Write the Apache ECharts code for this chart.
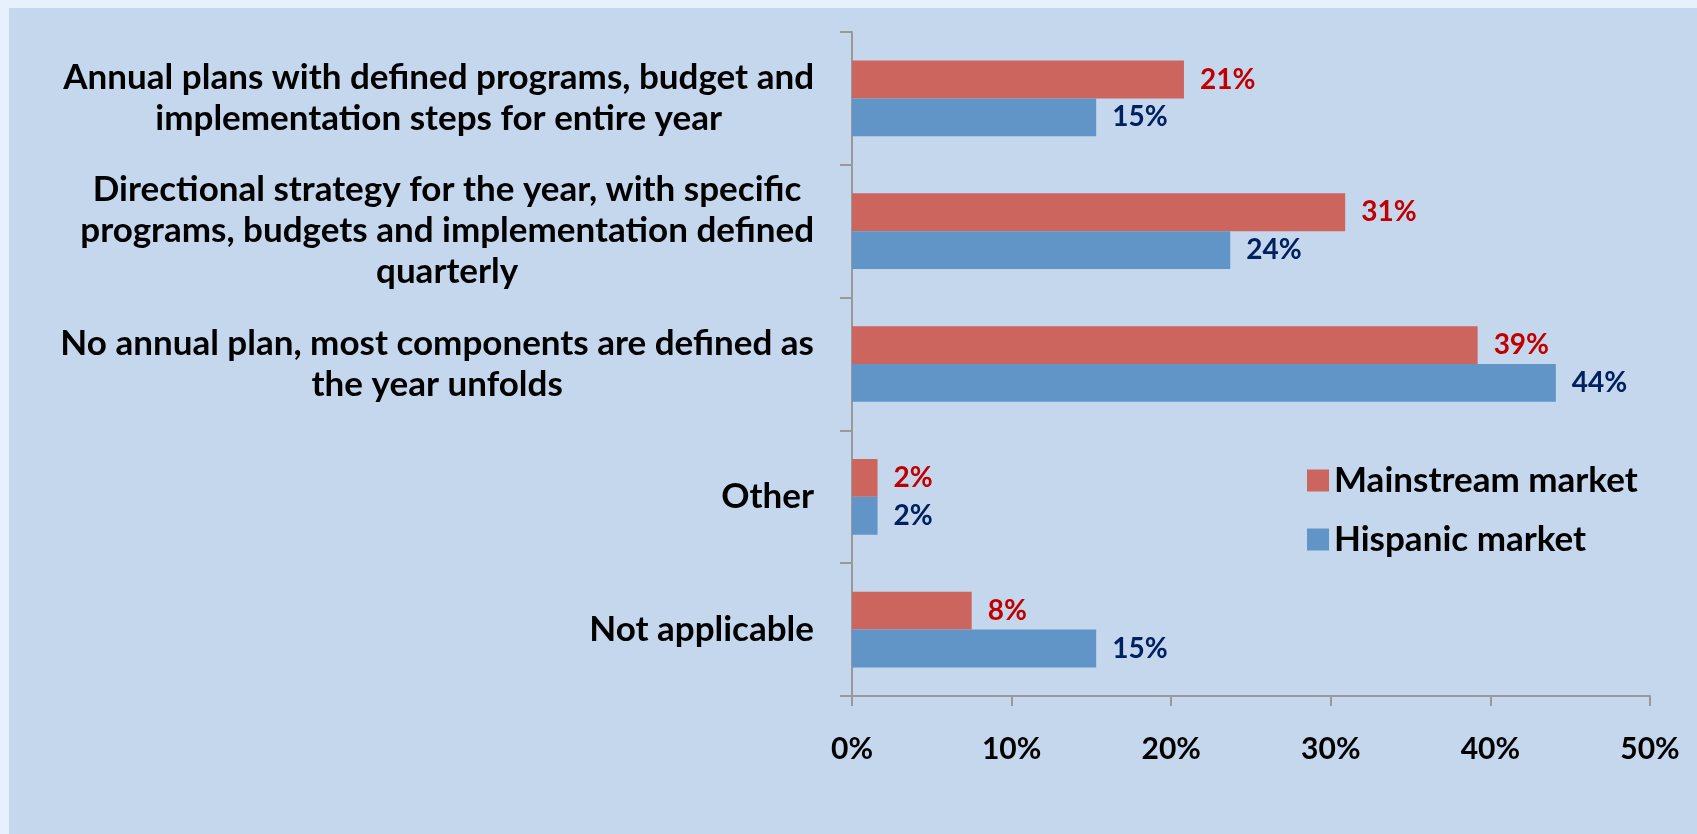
<!DOCTYPE html>
<html>
<head>
<meta charset="utf-8">
<script src="https://cdn.jsdelivr.net/npm/echarts@6/dist/echarts.min.js"></script>
<style>
html,body{margin:0;padding:0;background:#E6F1FD;}
#chart{width:1697px;height:834px;}
</style>
</head>
<body>
<div id="chart"></div>
<script>
const categories = [
  "Annual plans with defined programs, budget and\nimplementation steps for entire year",
  "Directional strategy for the year, with specific\nprograms, budgets and implementation defined\nquarterly",
  "No annual plan, most components are defined as\nthe year unfolds",
  "Other",
  "Not applicable"
];
const seriesNames = ["Mainstream market", "Hispanic market"];
const mainstream = [20.8, 30.9, 39.2, 1.6, 7.5];
const hispanic = [15.3, 23.7, 44.1, 1.6, 15.3];
const xTicks = [0, 10, 20, 30, 40, 50];

const FONT = 'Lato';
const chart = echarts.init(document.getElementById('chart'), null, {renderer: 'canvas'});
const labelFmt = p => Math.round(p.value) + '%';
chart.setOption({
  backgroundColor: '#E6F1FD',
  animation: false,
  graphic: [{
    type: 'rect', left: 9, top: 8, z: -10,
    shape: {width: 1688, height: 826},
    style: {fill: '#C5D7EC'}
  }],
  grid: {left: 852, right: 47, top: 32, bottom: 138, containLabel: false},
  legend: {
    orient: 'vertical', left: 1302, top: 458,
    itemWidth: 22, itemHeight: 22, itemGap: 24,
    icon: 'rect',
    textStyle: {fontFamily: FONT, fontWeight: 'bold', fontSize: 35, color: '#000'},
    data: seriesNames
  },
  xAxis: {
    type: 'value', min: xTicks[0], max: xTicks[xTicks.length - 1], interval: 10,
    axisLine: {show: true, lineStyle: {color: '#999999', width: 2}},
    axisTick: {show: true, length: 10, lineStyle: {color: '#999999', width: 2}},
    splitLine: {show: false},
    axisLabel: {margin: 38, formatter: '{value}%', fontFamily: FONT, fontWeight: 'bold', fontSize: 30, color: '#000'}
  },
  yAxis: {
    type: 'category', inverse: true, data: categories,
    axisLine: {show: true, lineStyle: {color: '#999999', width: 2}},
    axisTick: {show: true, length: 12, lineStyle: {color: '#999999', width: 2}},
    axisLabel: {
      margin: 38, align: 'right', fontFamily: FONT, fontWeight: 'bold', fontSize: 35, color: '#000', lineHeight: 41,
      formatter: v => v.split('\n').map(l => '{c|' + l + '}').join('\n'),
      rich: {c: {align: 'center', fontFamily: FONT, fontWeight: 'bold', fontSize: 35, color: '#000', lineHeight: 41}}
    }
  },
  series: [
    {
      name: seriesNames[0], type: 'bar', data: mainstream,
      barCategoryGap: '43%', barGap: '0%',
      itemStyle: {color: '#CD655F'},
      label: {show: true, position: 'right', distance: 16, formatter: labelFmt, fontFamily: FONT, fontWeight: 'bold', fontSize: 28, color: '#C00000'}
    },
    {
      name: seriesNames[1], type: 'bar', data: hispanic,
      barCategoryGap: '43%', barGap: '0%',
      itemStyle: {color: '#6195C8'},
      label: {show: true, position: 'right', distance: 16, formatter: labelFmt, fontFamily: FONT, fontWeight: 'bold', fontSize: 28, color: '#002060'}
    }
  ]
});
</script>
</body>
</html>
